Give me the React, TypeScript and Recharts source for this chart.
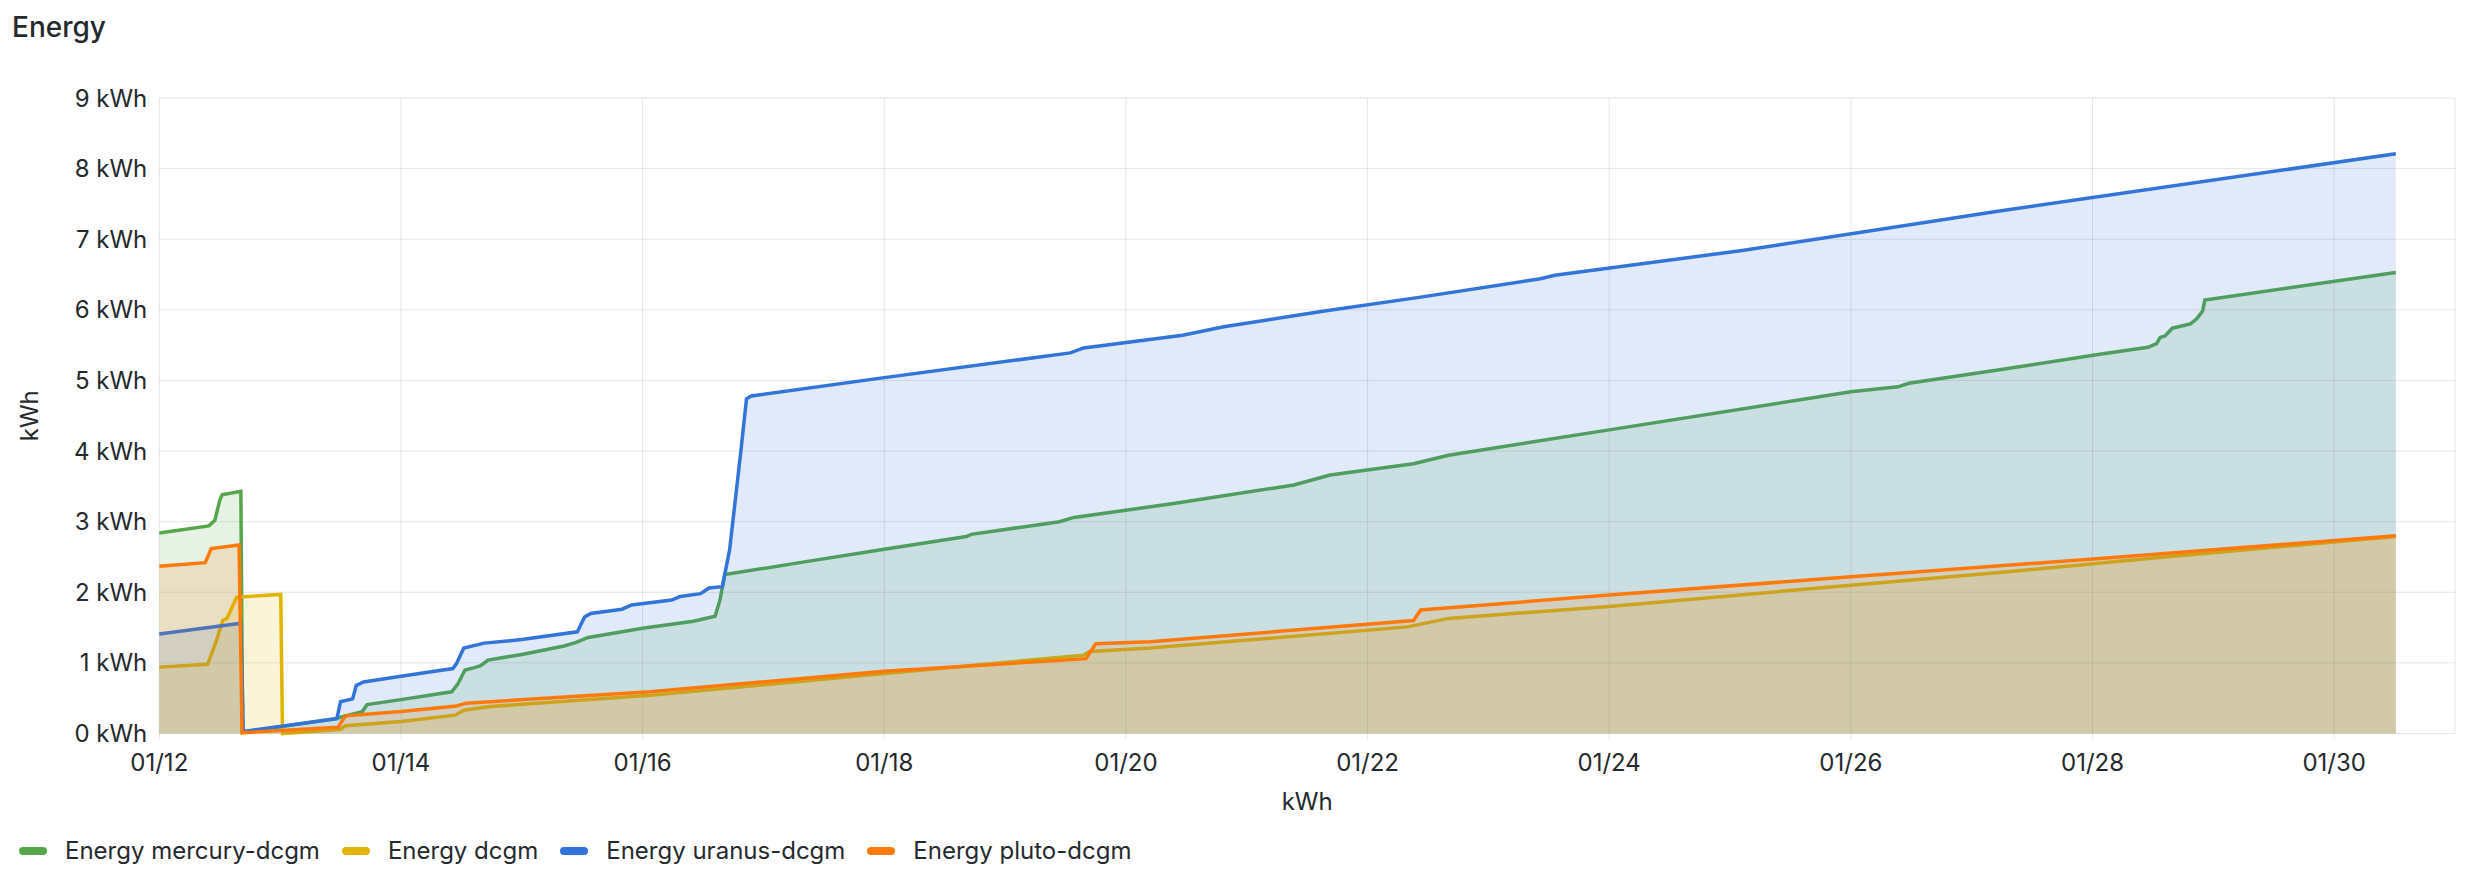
import { AreaChart, Area, XAxis, YAxis, CartesianGrid } from 'recharts';

// x = days since 01/12 00:00, y = kWh
const mercury: [number, number][] = [
  [0, 2.84], [0.41, 2.94], [0.46, 3.02], [0.5, 3.3], [0.52, 3.38], [0.675, 3.43],
  [0.69, 0.02], [1.45, 0.21], [1.68, 0.31], [1.72, 0.41], [2.0, 0.48], [2.42, 0.59],
  [2.47, 0.7], [2.53, 0.9], [2.6, 0.93], [2.66, 0.96], [2.72, 1.04], [3.0, 1.12],
  [3.35, 1.24], [3.45, 1.29], [3.55, 1.36], [4.0, 1.49], [4.42, 1.59], [4.6, 1.66],
  [4.64, 1.89], [4.68, 2.25], [5.3, 2.42], [6.0, 2.61], [6.68, 2.79], [6.72, 2.82],
  [7.45, 3.0], [7.57, 3.06], [8.41, 3.26], [9.39, 3.52], [9.69, 3.66], [10.38, 3.82],
  [10.67, 3.94], [12.0, 4.3], [14.0, 4.84], [14.39, 4.91], [14.48, 4.96], [15.23, 5.15],
  [16.06, 5.37], [16.46, 5.47], [16.53, 5.52], [16.56, 5.61], [16.6, 5.63], [16.66, 5.74],
  [16.81, 5.8], [16.86, 5.87], [16.91, 5.98], [16.93, 6.14], [18.51, 6.53],
];

const dcgm: [number, number][] = [
  [0, 0.94], [0.4, 0.98], [0.47, 1.3], [0.525, 1.6], [0.56, 1.63], [0.64, 1.93],
  [0.73, 1.94], [1.005, 1.97], [1.02, 0.0], [1.5, 0.06], [1.54, 0.11], [2.0, 0.17],
  [2.45, 0.26], [2.52, 0.33], [2.72, 0.38], [4.06, 0.54], [6.0, 0.85], [7.65, 1.11],
  [7.7, 1.16], [8.2, 1.21], [10.33, 1.51], [10.67, 1.63], [12.0, 1.8], [14.0, 2.1],
  [15.23, 2.28], [16.53, 2.49], [18.51, 2.79],
];

const uranus: [number, number][] = [
  [0, 1.41], [0.675, 1.56], [0.695, 0.03], [1.47, 0.21], [1.5, 0.45], [1.6, 0.49],
  [1.63, 0.68], [1.69, 0.73], [2.0, 0.81], [2.43, 0.92], [2.46, 0.99], [2.52, 1.21],
  [2.69, 1.28], [3.0, 1.33], [3.46, 1.44], [3.52, 1.65], [3.57, 1.7], [3.83, 1.76],
  [3.91, 1.82], [4.24, 1.89], [4.31, 1.94], [4.48, 1.98], [4.55, 2.06], [4.66, 2.08],
  [4.72, 2.6], [4.81, 3.95], [4.86, 4.74], [4.9, 4.78], [6.0, 5.04], [7.54, 5.39],
  [7.65, 5.46], [8.47, 5.64], [8.81, 5.76], [9.63, 5.98], [10.44, 6.18], [11.43, 6.44],
  [11.55, 6.49], [13.1, 6.84], [15.23, 7.4], [18.51, 8.21],
];

const pluto: [number, number][] = [
  [0, 2.37], [0.38, 2.42], [0.43, 2.62], [0.66, 2.67], [0.685, 0.01], [1.48, 0.09],
  [1.54, 0.25], [2.0, 0.31], [2.46, 0.39], [2.54, 0.43], [4.06, 0.59], [6.0, 0.88],
  [7.67, 1.06], [7.75, 1.27], [8.2, 1.3], [10.38, 1.6], [10.44, 1.75], [12.0, 1.96],
  [14.0, 2.22], [16.06, 2.48], [18.51, 2.8],
];

const seriesKeys = ['mercury', 'dcgm', 'uranus', 'pluto'];
const seriesNames = ['Energy mercury-dcgm', 'Energy dcgm', 'Energy uranus-dcgm', 'Energy pluto-dcgm'];
const seriesColors = ['#56A64B', '#E0B400', '#3274D9', '#FF780A'];
const seriesPoints = [mercury, dcgm, uranus, pluto];

const xTicks = [0, 2, 4, 6, 8, 10, 12, 14, 16, 18];
const yTicks = [0, 1, 2, 3, 4, 5, 6, 7, 8, 9];

// merge the series into one table keyed on time
const rows = new Map<number, Record<string, number>>();
seriesPoints.forEach((pts, i) => {
  pts.forEach(([t, v]) => {
    const row = rows.get(t) ?? { t };
    row[seriesKeys[i]] = v;
    rows.set(t, row);
  });
});
const data = [...rows.values()].sort((a, b) => a.t - b.t);

const textColor = '#24292e';
const font = 'Inter, sans-serif';

export default function App() {
  return (
    <div
      style={{
        position: 'absolute',
        left: 0,
        top: 0,
        width: 2483,
        height: 880,
        background: '#fff',
        fontFamily: font,
        color: textColor,
      }}
    >
      <div
        style={{
          position: 'absolute',
          left: 12,
          top: 13,
          fontSize: 28,
          lineHeight: '28px',
          fontWeight: 500,
        }}
      >
        Energy
      </div>

      <AreaChart
        width={2483}
        height={880}
        data={data}
        margin={{ top: 98, right: 28, left: 0, bottom: 0 }}
      >
        <CartesianGrid stroke="rgba(0,0,0,0.1)" />
        <XAxis
          type="number"
          dataKey="t"
          domain={[0, 19]}
          ticks={xTicks}
          tickFormatter={(d: number) => `01/${12 + d}`}
          height={146.5}
          axisLine={false}
          tickLine={{ stroke: 'rgba(0,0,0,0.1)' }}
          tickSize={6}
          tickMargin={14}
          tick={{ fill: textColor, fontSize: 24, fontFamily: font }}
          label={{
            value: 'kWh',
            position: 'insideTop',
            offset: 59,
            fill: textColor,
            fontSize: 24,
            fontFamily: font,
          }}
        />
        <YAxis
          type="number"
          domain={[0, 9]}
          ticks={yTicks}
          width={159.3}
          axisLine={false}
          tickLine={false}
          tickMargin={6}
          tickFormatter={(v: number) => `${v} kWh`}
          tick={{ fill: textColor, fontSize: 24, fontFamily: font }}
          label={{
            value: 'kWh',
            angle: -90,
            position: 'insideLeft',
            offset: 29,
            fill: textColor,
            fontSize: 24,
            fontFamily: font,
            style: { textAnchor: 'middle' },
          }}
        />
        {seriesKeys.map((key, i) => (
          <Area
            key={key}
            type="linear"
            dataKey={key}
            name={seriesNames[i]}
            stroke={seriesColors[i]}
            strokeWidth={3.5}
            fill={seriesColors[i]}
            fillOpacity={0.15}
            connectNulls
            dot={false}
            activeDot={false}
            isAnimationActive={false}
          />
        ))}
      </AreaChart>

      <div
        style={{
          position: 'absolute',
          left: 19,
          top: 839,
          display: 'flex',
          alignItems: 'center',
          fontSize: 24,
          lineHeight: '24px',
        }}
      >
        {seriesNames.map((name, i) => (
          <div key={name} style={{ display: 'flex', alignItems: 'center', marginRight: 22 }}>
            <span
              style={{
                display: 'inline-block',
                width: 28,
                height: 8,
                borderRadius: 4,
                background: seriesColors[i],
                marginRight: 18,
              }}
            />
            <span>{name}</span>
          </div>
        ))}
      </div>
    </div>
  );
}
